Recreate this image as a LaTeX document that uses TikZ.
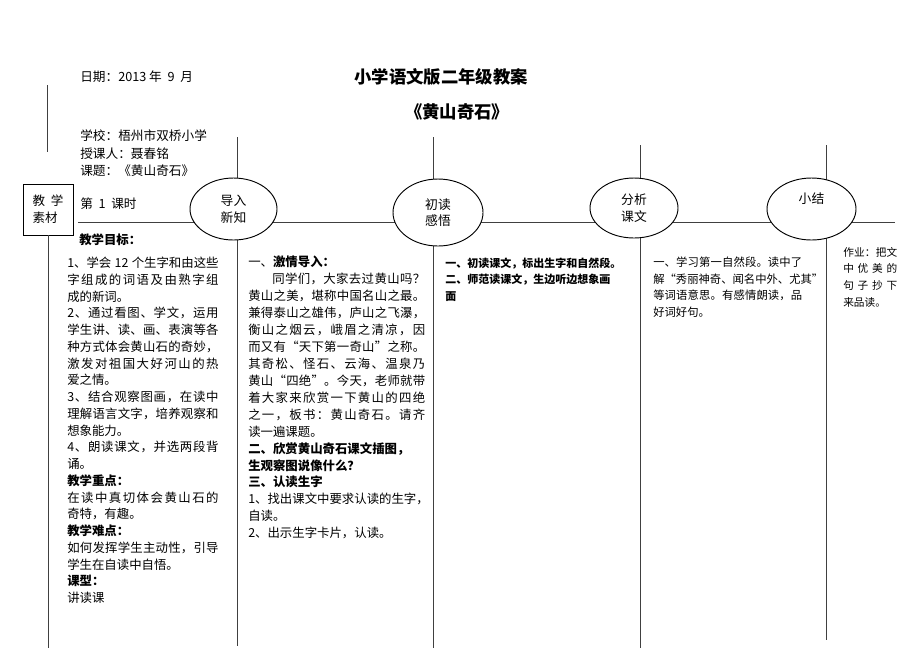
\documentclass[tikz,border=0pt]{standalone}
\usepackage{fontspec}
\setmainfont{Noto Sans CJK SC}
\usetikzlibrary{shapes.geometric}
\newlength\colw
\makeatletter
\def\J@end{\J@end}
\newcommand\J[1]{\hbox to \colw{\J@first#1\J@end}}
\def\J@first#1{#1\J@b}
\def\J@b#1{\ifx#1\J@end\else\hskip 0pt plus 1fil #1\expandafter\J@b\fi}
\makeatother
\begin{document}
\begin{tikzpicture}[x=0.75pt,y=-0.75pt,
  ln/.style={draw=black!75, line width=0.7pt},
  oval/.style={ellipse, draw=black, line width=0.7pt, fill=white, inner sep=0pt, align=center,
     font=\fontsize{9.6pt}{12.4pt}\selectfont},
  hdr/.style={inner sep=0pt, anchor=west, text height=8.4pt, text depth=1.1pt, font=\fontsize{9.5pt}{12pt}\selectfont},
  bodya/.style={inner sep=0pt, anchor=west, text height=8.2pt, text depth=1.1pt, font=\fontsize{9.3pt}{12pt}\selectfont},
  bodyb/.style={inner sep=0pt, anchor=west, text height=7.3pt, text depth=1pt, font=\bfseries\fontsize{8.25pt}{11pt}\selectfont},
  bodyc/.style={inner sep=0pt, anchor=west, text height=7.5pt, text depth=1pt, font=\fontsize{8.5pt}{11pt}\selectfont},
  bodyd/.style={inner sep=0pt, anchor=west, text height=7.1pt, text depth=1pt, font=\fontsize{8pt}{11pt}\selectfont},
  ttl/.style={inner sep=0pt, font=\bfseries\fontsize{13pt}{15pt}\selectfont}]
\useasboundingbox (0,0) rectangle (920,651);
% coordinates of connector ends
\coordinate (hL) at (78,222);
\coordinate (hR) at (895,222);
\coordinate (v0a) at (47,85);   \coordinate (v0b) at (47,152);
\coordinate (v1a) at (237,137); \coordinate (v1b) at (237,646);
\coordinate (v2a) at (433,137); \coordinate (v2b) at (433,648);
\coordinate (v3a) at (640,145); \coordinate (v3b) at (640,648);
\coordinate (v4a) at (826,145); \coordinate (v4b) at (826,640);
\coordinate (vbB) at (48,648);
% box
\node[draw=black, line width=0.7pt, minimum width=37.5pt, minimum height=38.25pt, inner sep=0pt,
      align=left, font=\fontsize{9.4pt}{12.6pt}\selectfont] (box) at (48,209.5) {教\ \ 学\\素材};
% lines
\draw[ln] (v0a) -- (v0b);
\draw[ln] (hL) -- (hR);
\draw[ln] (v1a) -- (v1b);
\draw[ln] (v2a) -- (v2b);
\draw[ln] (v3a) -- (v3b);
\draw[ln] (v4a) -- (v4b);
\draw[ln] (box.south) -- (vbB);
% ovals
\node[oval, minimum width=65.25pt, minimum height=46.5pt] (e1) at (233.5,209) {导入\\新知};
\node[oval, minimum width=67.5pt, minimum height=50.25pt] (e2) at (438,212.5) {初读\\感悟};
\node[oval, minimum width=66pt, minimum height=45pt] (e3) at (634,208) {分析\\课文};
\node[oval, minimum width=66.75pt, minimum height=46.5pt] (e4) at (811.5,209) {小结\\\strut};
% header texts
\node[hdr] (date) at (80,77) {日期：2013 年\ \ 9\ \ 月};
\node[ttl] (title) at (441,77) {小学语文版二年级教案};
\node[ttl] (sub) at (457,112) {《黄山奇石》};
\node[hdr] (school) at (80,136) {学校：梧州市双桥小学};
\node[hdr] (teacher) at (80,154) {授课人：聂春铭};
\node[hdr] (topic) at (80,171) {课题：《黄山奇石》};
\node[hdr] (lesson) at (80,204) {第\ \ 1\ \ 课时};
\node[hdr, font=\bfseries\fontsize{9.3pt}{12pt}\selectfont] (goal) at (79,240) {教学目标：};
% column 1
\setlength\colw{113.5pt}
\foreach \t [count=\i from 0] in {
 {\makebox[\colw][s]{1、学会 12 个生字和由这些}},
 {\J{字组成的词语及由熟字组}},
 {成的新词。},
 {\J{2、通过看图、学文，运用}},
 {\J{学生讲、读、画、表演等各}},
 {\J{种方式体会黄山石的奇妙，}},
 {\J{激发对祖国大好河山的热}},
 {爱之情。},
 {\J{3、结合观察图画，在读中}},
 {\J{理解语言文字，培养观察和}},
 {想象能力。},
 {\J{4、朗读课文，并选两段背}},
 {诵。},
 {\textbf{教学重点：}},
 {\J{在读中真切体会黄山石的}},
 {奇特，有趣。},
 {\textbf{教学难点：}},
 {\J{如何发挥学生主动性，引导}},
 {学生在自读中自悟。},
 {\textbf{课型：}},
 {讲读课}}
 {\node[bodya] (ca\i) at (67,{263+\i*16.75}) {\t};}
% column 2
\setlength\colw{132.75pt}
\foreach \t [count=\i from 0] in {
 {一、\textbf{激情导入：}},
 {\hspace*{18pt}{\setlength\colw{114.75pt}\J{同学们，大家去过黄山吗？}}},
 {\J{黄山之美，堪称中国名山之最。}},
 {\J{兼得泰山之雄伟，庐山之飞瀑，}},
 {\J{衡山之烟云，峨眉之清凉，因}},
 {\J{而又有“天下第一奇山”之称。}},
 {\J{其奇松、怪石、云海、温泉乃}},
 {\J{黄山“四绝”。今天，老师就带}},
 {\J{着大家来欣赏一下黄山的四绝}},
 {\J{之一，板书：黄山奇石。请齐}},
 {读一遍课题。},
 {\textbf{二、欣赏黄山奇石课文插图，}},
 {\textbf{生观察图说像什么？}},
 {\textbf{三、认读生字}},
 {\J{1、找出课文中要求认读的生字，}},
 {自读。},
 {2、出示生字卡片，认读。}}
 {\node[bodya] (cb\i) at (248,{262+\i*16.94}) {\t};}
% column 3
\foreach \t [count=\i from 0] in {
 {一、初读课文，标出生字和自然段。},
 {二、师范读课文，生边听边想象画},
 {面}}
 {\node[bodyb] (cc\i) at (445,{263+\i*16.5}) {\t};}
% column 4
\setlength\colw{111.75pt}
\foreach \t [count=\i from 0] in {
 {\J{一、学习第一自然段。读中了}},
 {\J{解“秀丽神奇、闻名中外、尤其”}},
 {\J{等词语意思。有感情朗读，品}},
 {好词好句。}}
 {\node[bodyc] (cd\i) at (653,{262+\i*16.7}) {\t};}
% column 5
\setlength\colw{40.5pt}
\foreach \t [count=\i from 0] in {
 {\J{作业：把文}},
 {\J{中优美的}},
 {\J{句子抄下}},
 {来品读。}}
 {\node[bodyd] (ce\i) at (843,{252+\i*16.7}) {\t};}
\end{tikzpicture}
\end{document}
